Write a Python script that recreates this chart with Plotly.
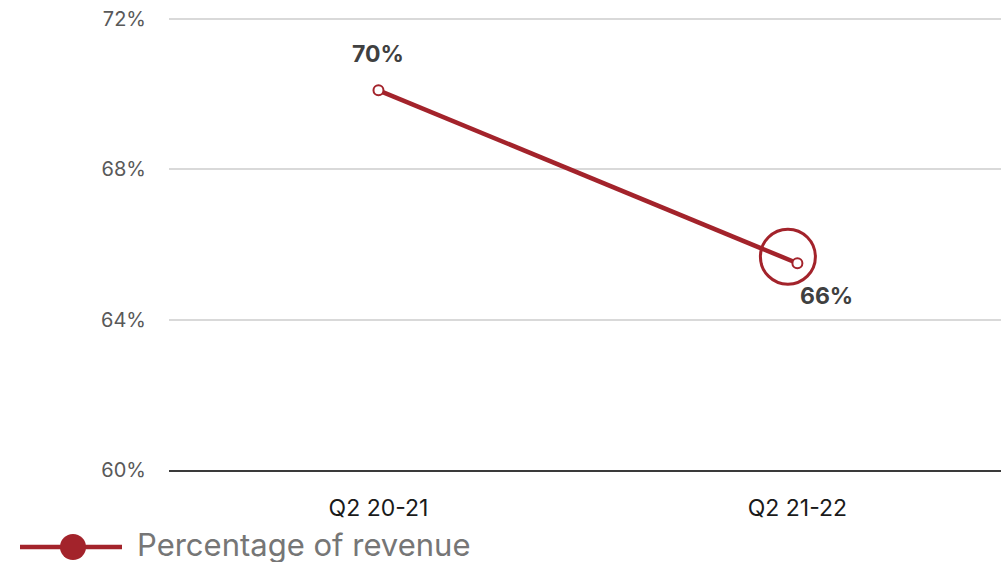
import plotly.graph_objects as go

# Share of revenue by quarter
quarters = ["Q2 20-21", "Q2 21-22"]
revenue_share = [70.1, 65.5]
y_ticks = [60, 64, 68, 72]
y_tick_labels = ["60%", "64%", "68%", "72%"]
series_name = "Percentage of revenue"

RED = "#A3232B"
FONT = "Inter"

# plot area in pixels (for items placed in paper space)
L, R, T, B = 169, 1001, 17, 470
W, H = R - L, B - T


def px_x(p):
    return (p - L) / W


def px_y(p):
    return (B - p) / H


fig = go.Figure()
fig.add_trace(go.Scatter(
    x=quarters, y=revenue_share, mode="lines+markers",
    name=series_name, showlegend=False,
    line=dict(color=RED, width=4.5),
    marker=dict(size=10, color="white", line=dict(color=RED, width=2)),
    hoverinfo="skip",
))

# value labels
label_offsets = [(0, 36), (29, -33)]
annotations = []
for q, v, (dx, dy) in zip(quarters, revenue_share, label_offsets):
    annotations.append(dict(
        x=q, y=v, xref="x", yref="y", text=f"<b>{v:.0f}%</b>",
        showarrow=False, xshift=dx, yshift=dy,
        font=dict(family=FONT, size=23, color="#404040"),
        xanchor="center", yanchor="middle",
    ))

# legend text
annotations.append(dict(
    x=px_x(135), y=px_y(544), xref="paper", yref="paper", text=series_name,
    showarrow=False, xanchor="left", yanchor="middle",
    font=dict(family=FONT, size=31, color="#767676"),
))

shapes = [
    # highlight ring around the latest quarter
    dict(type="circle", xref="x", yref="y", xsizemode="pixel", ysizemode="pixel",
         xanchor=quarters[1], yanchor=revenue_share[1],
         x0=-37, x1=18, y0=-21, y1=34,
         line=dict(color=RED, width=3), fillcolor="rgba(0,0,0,0)"),
    # legend swatch
    dict(type="line", xref="paper", yref="paper",
         x0=px_x(20), x1=px_x(122), y0=px_y(547), y1=px_y(547),
         line=dict(color=RED, width=4.5)),
    dict(type="circle", xref="paper", yref="paper",
         x0=px_x(60), x1=px_x(86), y0=px_y(560), y1=px_y(534),
         line=dict(color=RED, width=0), fillcolor=RED),
]

fig.update_layout(
    width=1001, height=562,
    margin=dict(l=L, r=1001 - R, t=T, b=562 - B),
    paper_bgcolor="white", plot_bgcolor="white",
    showlegend=False,
    annotations=annotations, shapes=shapes,
    xaxis=dict(
        type="category", range=[-0.5, 1.486],
        showgrid=False, showline=True, linecolor="#3a3a3a", linewidth=1.5,
        ticks="", ticklabelstandoff=17,
        tickfont=dict(family=FONT, size=23, color="#1a1a1a"),
    ),
    yaxis=dict(
        range=[60, 72.05], tickvals=y_ticks, ticktext=y_tick_labels,
        showgrid=True, gridcolor="#d9d9d9", gridwidth=1.5,
        zeroline=False, showline=False, ticks="", ticklabelstandoff=22,
        tickfont=dict(family=FONT, size=20, color="#595959"),
    ),
)

fig.write_html("out.html")
